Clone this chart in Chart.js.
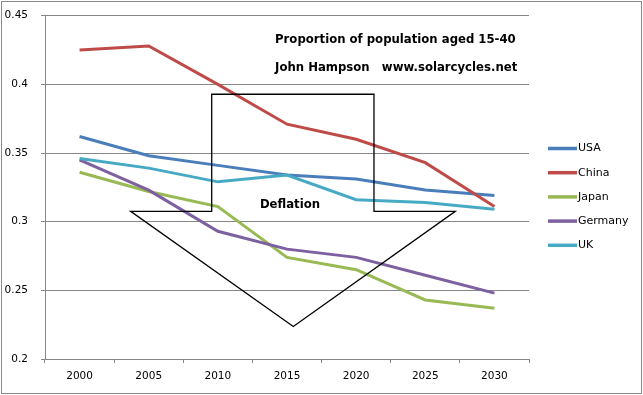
<!DOCTYPE html>
<html>
<head>
<meta charset="utf-8">
<script src="https://cdn.jsdelivr.net/npm/chart.js@4/dist/chart.umd.min.js"></script>
<style>
html,body{margin:0;padding:0;background:#fff;}
canvas{display:block;}
</style>
</head>
<body>
<canvas id="c" width="643" height="395"></canvas>
<script>
const categories = ['2000','2005','2010','2015','2020','2025','2030'];
const usa     = [0.362, 0.348, 0.341, 0.334, 0.331, 0.323, 0.319];
const china   = [0.425, 0.428, 0.400, 0.371, 0.360, 0.343, 0.311];
const japan   = [0.336, 0.322, 0.311, 0.274, 0.265, 0.243, 0.237];
const germany = [0.345, 0.323, 0.293, 0.280, 0.274, 0.261, 0.248];
const uk      = [0.346, 0.339, 0.329, 0.334, 0.316, 0.314, 0.309];
const seriesNames = ['USA','China','Japan','Germany','UK'];
const seriesColors = ['#4A7EBB','#BE4B48','#98B954','#7D60A0','#46AAC5'];
const yTicks = [0.2, 0.25, 0.3, 0.35, 0.4, 0.45];

const titleLines = ['Proportion of population aged 15-40', 'John Hampson   www.solarcycles.net'];
const arrowLabel = 'Deflation';
// arrow outline in (category index, value) units
const arrowX = [1.911, 4.258, 4.258, 5.434, 3.091, 0.739, 1.911];
const arrowY = [0.3928, 0.3928, 0.3075, 0.3075, 0.2237, 0.3075, 0.3075];

const seriesValues = [usa, china, japan, germany, uk];

const FONT = '"DejaVu Sans", Verdana, sans-serif';

const annot = {
  id: 'annot',
  afterDatasetsDraw(chart) {
    const ctx = chart.ctx, xs = chart.scales.x, ys = chart.scales.y;
    ctx.save();
    ctx.beginPath();
    for (let i = 0; i < arrowX.length; i++) {
      const px = xs.getPixelForValue(arrowX[i]);
      const py = ys.getPixelForValue(arrowY[i]);
      if (i === 0) ctx.moveTo(px, py); else ctx.lineTo(px, py);
    }
    ctx.closePath();
    ctx.strokeStyle = '#000';
    ctx.lineWidth = 1.3;
    ctx.stroke();
    ctx.fillStyle = '#000';
    ctx.font = 'bold 11.7px ' + FONT;
    ctx.textBaseline = 'middle';
    ctx.textAlign = 'left';
    ctx.fillText(titleLines[0], xs.getPixelForValue(2.827), ys.getPixelForValue(0.4323));
    ctx.fillText(titleLines[1], xs.getPixelForValue(2.827), ys.getPixelForValue(0.4119));
    ctx.textAlign = 'center';
    ctx.fillText(arrowLabel, xs.getPixelForValue(3.043), ys.getPixelForValue(0.3123));
    ctx.restore();
  },
  afterDraw(chart) {
    const ctx = chart.ctx;
    ctx.save();
    ctx.font = '11px ' + FONT;
    ctx.textBaseline = 'middle';
    ctx.textAlign = 'left';
    chart.data.datasets.forEach((ds, i) => {
      const y = 148.5 + i * 24.2;
      ctx.strokeStyle = ds.borderColor;
      ctx.lineWidth = 3.5;
      ctx.beginPath();
      ctx.moveTo(548, y);
      ctx.lineTo(577, y);
      ctx.stroke();
      ctx.fillStyle = '#000';
      ctx.fillText(ds.label, 578, y);
    });
    ctx.strokeStyle = '#8a8a8a';
    ctx.lineWidth = 1;
    ctx.strokeRect(1.5, 1.5, 640, 392);
    ctx.restore();
  }
};

new Chart(document.getElementById('c'), {
  type: 'line',
  data: {
    labels: categories,
    datasets: seriesNames.map((n, i) => ({
      label: n,
      data: seriesValues[i],
      borderColor: seriesColors[i],
      backgroundColor: seriesColors[i],
      borderWidth: 3,
      pointRadius: 0,
      tension: 0,
      order: seriesNames.length - i
    }))
  },
  options: {
    responsive: false,
    animation: false,
    devicePixelRatio: 1,
    layout: { padding: { left: 0, right: 114, top: 15.7, bottom: 0 } },
    plugins: { legend: { display: false }, tooltip: { enabled: false }, title: { display: false } },
    scales: {
      x: {
        type: 'category',
        offset: true,
        grid: { offset: true, drawOnChartArea: false, drawTicks: true, tickLength: 4, color: '#868686' },
        border: { display: true, color: '#868686', width: 1 },
        ticks: { color: '#000', font: { family: FONT, size: 10.5 }, padding: 7, maxRotation: 0 },
        afterFit(s) { s.height = 36; }
      },
      y: {
        min: 0.2, max: 0.45,
        afterBuildTicks(s) { s.ticks = yTicks.map(v => ({ value: v })); },
        grid: { color: '#868686', drawTicks: true, tickLength: 4 },
        border: { display: true, color: '#868686', width: 1 },
        ticks: { color: '#000', font: { family: FONT, size: 10.5 }, padding: 13, callback: v => String(v) },
        afterFit(s) { s.width = 45; s.paddingTop = 0; s.paddingBottom = 0; }
      }
    }
  },
  plugins: [annot]
});
</script>
</body>
</html>
